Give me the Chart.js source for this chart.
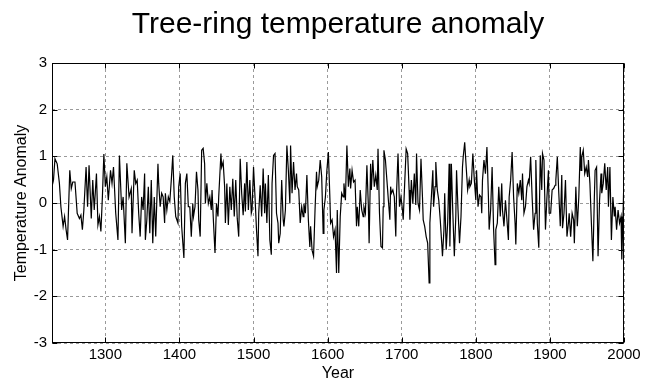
<!DOCTYPE html>
<html>
<head>
<meta charset="utf-8">
<script src="https://cdn.jsdelivr.net/npm/chart.js@4/dist/chart.umd.min.js"></script>
<style>
  html, body { margin: 0; padding: 0; background: #fff; }
  #wrap { width: 655px; height: 384px; }
</style>
</head>
<body>
<div id="wrap"><canvas id="c" width="655" height="384"></canvas></div>
<script>
// ---- data ----
const years = [1228,1230,1232,1235,1238,1240,1243,1245,1247,1249,1252,1254,1256,1259,1262,1265,1267,1269,1271,1274,1276,1278,1281,1283,1285,1288,1290,1292,1294,1296,1298,1300,1302,1304,1307,1309,1311,1314,1317,1319,1322,1324,1327,1329,1332,1335,1336,1339,1341,1343,1345,1347,1349,1351,1353,1354,1356,1358,1360,1362,1364,1366,1368,1371,1372,1374,1376,1378,1380,1381,1383,1385,1387,1389,1391,1393,1395,1398,1399,1401,1403,1406,1408,1410,1412,1414,1416,1418,1419,1421,1423,1425,1426,1428,1430,1432,1434,1435,1437,1439,1441,1443,1444,1446,1448,1450,1452,1453,1456,1457,1459,1461,1462,1464,1466,1468,1470,1472,1474,1476,1478,1480,1482,1484,1486,1488,1489,1491,1493,1495,1497,1498,1500,1502,1504,1506,1507,1509,1511,1513,1515,1516,1518,1520,1522,1524,1525,1527,1529,1531,1533,1534,1536,1538,1540,1541,1543,1545,1547,1549,1550,1552,1554,1556,1558,1559,1561,1563,1565,1567,1568,1570,1572,1574,1576,1577,1579,1581,1583,1585,1586,1588,1590,1592,1594,1595,1597,1599,1601,1603,1604,1606,1608,1610,1612,1613,1615,1617,1619,1621,1622,1624,1626,1628,1630,1631,1633,1635,1637,1639,1640,1642,1644,1646,1648,1649,1651,1653,1655,1656,1658,1659,1661,1663,1665,1667,1668,1670,1672,1674,1675,1676,1678,1680,1682,1684,1685,1686,1688,1690,1692,1693,1695,1697,1699,1701,1702,1704,1706,1708,1710,1711,1713,1715,1717,1719,1720,1722,1724,1726,1728,1729,1731,1733,1735,1737,1738,1740,1742,1743,1745,1746,1748,1750,1752,1754,1755,1757,1758,1760,1762,1764,1765,1767,1769,1771,1773,1774,1776,1778,1780,1782,1783,1785,1787,1789,1791,1792,1794,1796,1798,1800,1801,1803,1805,1807,1808,1809,1811,1813,1815,1817,1818,1820,1822,1824,1826,1827,1829,1831,1833,1835,1836,1838,1840,1842,1844,1845,1847,1849,1851,1853,1854,1856,1858,1860,1862,1863,1865,1867,1869,1871,1872,1874,1876,1878,1880,1881,1883,1885,1887,1889,1890,1892,1894,1896,1898,1899,1901,1903,1905,1907,1908,1910,1912,1914,1916,1917,1919,1921,1923,1925,1926,1928,1930,1932,1933,1935,1937,1939,1941,1942,1943,1945,1947,1949,1951,1952,1954,1956,1958,1960,1961,1963,1965,1967,1969,1970,1972,1974,1976,1978,1979,1981,1983,1985,1987,1988,1990,1992,1994,1996,1997,1999,2000];

const anomaly = [0.35,0.49,0.95,0.84,0.42,-0.08,-0.50,-0.29,-0.57,-0.79,0.70,0.31,0.45,0.45,-0.22,-0.33,-0.26,-0.57,-0.15,0.77,-0.08,0.81,-0.33,0.49,-0.15,0.63,-0.47,-0.29,-0.61,0.13,1.05,0.35,0.56,0.06,0.70,0.42,0.77,-0.22,-0.79,1.02,-0.15,0.13,-0.86,0.85,0.13,0.31,-0.65,0.70,0.42,0.49,-0.22,-0.72,0.13,-0.15,0.63,-0.79,-0.36,0.35,-0.65,0.49,-0.86,0.13,-0.72,0.84,0.42,-0.08,0.21,0.13,-0.43,0.21,-0.15,0.13,0.03,0.49,1.02,0.13,-0.29,-0.43,0.35,0.63,-0.50,-1.18,0.42,0.63,-0.08,-0.08,-0.72,-0.01,-0.29,-0.08,0.67,0.28,-0.36,-0.72,1.13,1.17,0.84,-0.01,0.42,-0.01,0.13,-0.15,0.28,-0.43,-1.07,-0.01,-0.29,0.13,1.06,0.77,0.88,0.35,-0.43,0.42,-0.47,0.35,-0.15,0.52,-0.29,0.49,-0.33,-0.72,0.95,0.21,-0.26,0.42,-0.18,0.88,-0.15,0.49,-0.22,-0.15,0.77,0.13,-0.57,-1.14,-0.22,0.38,-0.29,0.74,-0.22,0.42,-0.43,0.60,-0.79,-1.11,0.42,1.02,1.06,-0.22,-0.43,-0.86,-0.65,0.49,-0.36,-0.50,-0.15,1.23,0.70,-0.01,1.23,0.21,0.88,0.28,0.63,0.35,0.28,-0.43,-0.08,-0.29,-0.01,-0.22,0.60,-0.36,-0.94,-0.50,-1.01,-1.14,-0.15,0.67,0.35,0.49,0.92,0.56,-0.65,-0.15,0.13,0.70,1.09,0.13,-0.43,-0.36,-0.72,-0.57,-1.50,-0.15,-1.50,-0.29,0.21,0.13,0.42,0.06,1.23,0.35,0.74,0.31,0.70,0.45,0.49,-0.50,-0.08,-0.50,0.28,-0.15,-0.29,-0.08,-0.22,0.81,-0.08,-0.86,0.84,0.28,0.92,0.35,0.60,0.28,1.16,-0.22,-0.93,-0.96,-0.08,1.13,0.92,0.49,0.06,-0.36,0.35,0.21,0.28,0.13,-0.72,0.21,1.06,-0.08,0.13,-0.15,-0.36,0.42,1.16,1.06,0.28,-0.36,0.49,-0.01,0.63,-0.04,1.06,-0.01,-0.15,0.95,0.13,-0.36,-0.50,-0.72,-0.86,-1.71,-0.43,0.13,0.70,-0.08,0.35,0.88,0.28,0.06,-0.36,-0.86,-1.14,-0.57,0.21,-1.00,-0.43,0.84,-0.93,0.84,-0.22,-1.14,-0.29,0.70,-0.15,-0.86,-0.29,0.77,0.99,1.30,0.77,0.28,0.49,0.35,0.42,1.06,0.49,0.06,0.70,-0.08,0.17,0.13,-0.22,0.49,0.92,0.63,1.20,0.13,-0.57,-0.15,0.77,-0.57,-1.32,-0.57,-0.43,0.35,-0.29,0.42,-0.15,-0.50,0.06,-0.36,-0.79,0.13,0.49,1.09,0.13,-0.43,-0.89,0.42,0.21,0.49,0.06,0.63,-0.22,-0.08,0.35,0.49,0.42,0.99,0.13,-0.57,-0.22,0.92,-0.43,-0.96,1.02,0.28,1.06,0.92,-0.57,0.13,0.70,-0.22,-0.22,0.28,0.31,0.38,0.49,0.99,0.21,-0.50,0.60,-0.54,-0.22,0.49,-0.72,-0.43,-0.22,-0.72,-0.22,-0.36,-0.86,0.35,-0.50,0.13,1.20,0.70,0.99,1.13,0.63,0.77,0.56,0.92,0.42,-0.43,-1.25,0.13,0.70,0.77,-1.14,0.06,0.63,0.21,0.42,0.85,0.28,0.77,-0.08,0.77,-0.79,0.13,-0.29,-0.08,-0.57,-0.15,-0.43,-0.29,-1.21,-0.08,0.63];

const xTickValues = [1300,1400,1500,1600,1700,1800,1900,2000];
const yTickValues = [-3,-2,-1,0,1,2,3];
const xRange = [1228, 2000];
const yRange = [-3, 3];

const titleText = 'Tree-ring temperature anomaly';
const xLabel = 'Year';
const yLabel = 'Temperature Anomaly';

// ---- chart ----
const FONT = '"Liberation Sans", Arial, Helvetica, sans-serif';

const points = years.map((y, i) => ({ x: y, y: anomaly[i] }));

const framePlugin = {
  id: 'frame',
  afterDatasetsDraw(chart) {
    const { ctx, chartArea: a, scales } = chart;
    ctx.save();
    ctx.strokeStyle = '#000';
    ctx.lineWidth = 1;
    const L = Math.round(a.left) + 0.5, R = Math.round(a.right) - 0.5;
    const T = Math.round(a.top) + 0.5, B = Math.round(a.bottom) - 0.5;
    ctx.strokeRect(L, T, R - L, B - T);
    const len = 5;
    ctx.beginPath();
    xTickValues.forEach(v => {
      const px = Math.round(scales.x.getPixelForValue(v)) + 0.5;
      ctx.moveTo(px, B); ctx.lineTo(px, B - len);
      ctx.moveTo(px, T); ctx.lineTo(px, T + len);
    });
    yTickValues.forEach(v => {
      const py = Math.round(scales.y.getPixelForValue(v)) + 0.5;
      ctx.moveTo(L, py); ctx.lineTo(L + len, py);
      ctx.moveTo(R, py); ctx.lineTo(R - len, py);
    });
    ctx.stroke();
    ctx.restore();
  }
};

new Chart(document.getElementById('c'), {
  type: 'line',
  data: {
    datasets: [{
      data: points,
      borderColor: '#000',
      borderWidth: 1.2,
      pointRadius: 0,
      tension: 0,
      fill: false
    }]
  },
  options: {
    responsive: false,
    animation: false,
    devicePixelRatio: 1,
    layout: { padding: { left: 0, right: 31, top: 0, bottom: 0 } },
    plugins: {
      legend: { display: false },
      tooltip: { enabled: false },
      title: {
        display: true,
        text: titleText,
        fullSize: false,
        color: '#000',
        font: { family: FONT, size: 30, weight: 'normal', lineHeight: 1.2 },
        padding: { top: 7, bottom: 20 }
      }
    },
    scales: {
      x: {
        type: 'linear',
        min: xRange[0],
        max: xRange[1],
        afterBuildTicks(s) { s.ticks = xTickValues.map(v => ({ value: v })); },
        afterFit(s) { s.height = 41; },
        ticks: {
          color: '#000',
          font: { family: FONT, size: 15 },
          padding: 3,
          maxRotation: 0,
          autoSkip: false,
          callback: v => String(v)
        },
        grid: { color: '#9a9a9a', lineWidth: 1, drawTicks: false },
        border: { display: false, dash: [3, 3] },
        title: {
          display: true,
          text: xLabel,
          color: '#000',
          font: { family: FONT, size: 16, lineHeight: 1.2 },
          padding: { top: 0, bottom: 1 }
        }
      },
      y: {
        type: 'linear',
        min: yRange[0],
        max: yRange[1],
        afterBuildTicks(s) { s.ticks = yTickValues.map(v => ({ value: v })); },
        afterFit(s) { s.width = 52; },
        ticks: {
          color: '#000',
          font: { family: FONT, size: 15 },
          padding: 5,
          callback: v => String(v)
        },
        grid: { color: '#9a9a9a', lineWidth: 1, drawTicks: false },
        border: { display: false, dash: [3, 3] },
        title: {
          display: true,
          text: yLabel,
          color: '#000',
          font: { family: FONT, size: 16, lineHeight: 1.2 },
          padding: { top: 12, bottom: 0 }
        }
      }
    }
  },
  plugins: [framePlugin]
});
</script>
</body>
</html>
